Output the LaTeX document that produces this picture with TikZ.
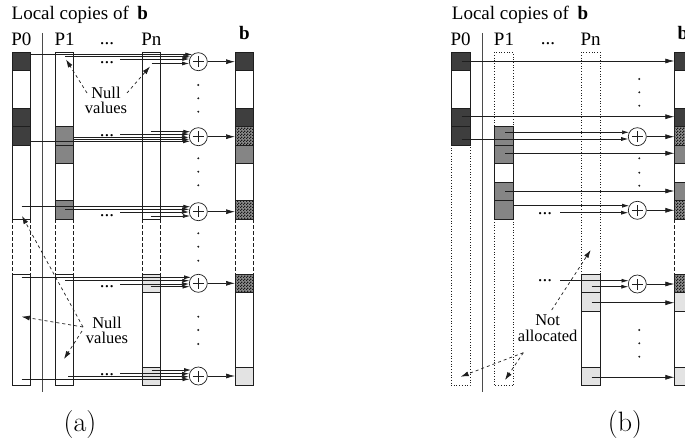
\documentclass[tikz,border=0pt]{standalone}
\usepackage{fontspec}
\newfontfamily\tms{Liberation Serif}
\usetikzlibrary{arrows.meta,patterns}
\pgfdeclarepatternformonly{finechk}{\pgfpointorigin}{\pgfpoint{2.6pt}{2.6pt}}{\pgfpoint{2.6pt}{2.6pt}}{%
  \pgfpathrectangle{\pgfpointorigin}{\pgfpoint{1.3pt}{1.3pt}}%
  \pgfpathrectangle{\pgfpoint{1.3pt}{1.3pt}}{\pgfpoint{1.3pt}{1.3pt}}%
  \pgfusepath{fill}}
\definecolor{dkc}{HTML}{3E3E3E}
\definecolor{mdc}{HTML}{858585}
\definecolor{ltc}{HTML}{E3E3E3}
\definecolor{lnc}{HTML}{1E1E1E}
\def\YA{52.3}\def\YB{70.9}\def\YC{89.4}\def\YD{108}\def\YE{126.5}\def\YF{145}\def\YG{163.6}\def\YH{182.2}\def\YI{200.7}\def\YJ{219.3}
\def\ZA{274}\def\ZB{292.6}\def\ZC{311.2}\def\ZF{367}\def\ZG{385.6}
\newcommand\blk[4]{\path[#4] (#1,#2) rectangle ({#1+18.7},#3);}
\newcommand\feed[4]{\pgfmathsetmacro\tipx{#3-sqrt(max(88-(#2-#4)*(#2-#4),0))}\draw[feedln] (#1,#2) -- (\tipx,#2);}
\tikzset{
 box/.style={draw=lnc,line width=0.8pt},
 dkb/.style={box,fill=dkc},
 mdb/.style={box,fill=mdc},
 ltb/.style={box,fill=ltc},
 hxb/.style={box,fill=black!45,postaction={pattern=finechk,pattern color=black!90},postaction={draw=lnc,line width=0.8pt}},
 dotb/.style={draw=lnc,line width=0.7pt,dotted},
 dsh/.style={draw=lnc,line width=0.8pt,dash pattern=on 3.5pt off 2.5pt},
 feedln/.style={draw=lnc,line width=0.7pt,-{Latex[length=7pt,width=4pt]}},
 outln/.style={draw=lnc,line width=0.7pt,-{Latex[length=9pt,width=5pt]}},
 note/.style={draw=lnc,line width=0.7pt,dash pattern=on 3pt off 3pt,-{Latex[length=8pt,width=5pt]}},
 oplus/.style={circle,draw=lnc,line width=0.7pt,minimum size=18pt,inner sep=0pt,fill=white,
   path picture={\draw[line width=0.6pt] ([xshift=-5.5pt]path picture bounding box.center) -- ([xshift=5.5pt]path picture bounding box.center) ([yshift=-5.5pt]path picture bounding box.center) -- ([yshift=5.5pt]path picture bounding box.center);}},
 lbl/.style={font=\tms\fontsize{19}{21}\selectfont,inner sep=0pt,anchor=base},
 nt/.style={font=\tms\fontsize{16.5}{15.5}\selectfont,align=center,inner sep=0pt},
 vdot/.style={circle,fill=lnc,inner sep=0pt,minimum size=2.2pt},
 capt/.style={font=\fontsize{28}{30}\selectfont,inner sep=0pt,anchor=base},
}
\begin{document}
\begin{tikzpicture}[x=1pt,y=-1pt]
\clip (0,0) rectangle (685,441);
\fill[white] (0,0) rectangle (685,441);

%================ Panel (a) ================
\node[lbl,anchor=base west] (ha) at (11.5,20) {Local copies of\hspace{0.45em}\textbf{b}};
\node[lbl] (ha0) at (21.3,45.7) {P0};
\node[lbl] (ha1) at (64.7,45.7) {P1};
\node[lbl] (had) at (107,44.5) {...};
\node[lbl] (han) at (151.3,45.7) {Pn};
\node[lbl] (hab) at (244.3,40) {\textbf{b}};
\draw[box,draw=lnc!80] (42.7,33) -- (42.7,392);

% P0
\path[box] (12,\YA) rectangle (30.7,\YJ);
\blk{12}{\YA}{\YB}{dkb}\blk{12}{\YD}{\YE}{dkb}\blk{12}{\YE}{\YF}{dkb}
\path[dsh] (12,\YJ) -- (12,\ZA) (30.7,\YJ) -- (30.7,\ZA);
\path[box] (12,\ZA) rectangle (30.7,\ZG);
% P1
\path[box] (55,\YA) rectangle (73.7,\YJ);
\blk{55}{\YE}{\YF}{mdb}\blk{55}{\YF}{\YG}{mdb}\blk{55}{\YI}{\YJ}{mdb}
\path[dsh] (55,\YJ) -- (55,\ZA) (73.7,\YJ) -- (73.7,\ZA);
\path[box] (55,\ZA) rectangle (73.7,\ZG);
% Pn
\path[box] (141.9,\YA) rectangle (160.6,\YJ);
\path[dsh] (141.9,\YJ) -- (141.9,\ZA) (160.6,\YJ) -- (160.6,\ZA);
\path[box] (141.9,\ZA) rectangle (160.6,\ZG);
\blk{141.9}{\ZA}{\ZB}{ltb}\blk{141.9}{\ZF}{\ZG}{ltb}
% b
\path[box] (235,\YA) rectangle (253.7,\YJ);
\blk{235}{\YA}{\YB}{dkb}\blk{235}{\YD}{\YE}{dkb}\blk{235}{\YE}{\YF}{hxb}\blk{235}{\YF}{\YG}{mdb}\blk{235}{\YI}{\YJ}{hxb}
\path[dsh] (235,\YJ) -- (235,\ZA) (253.7,\YJ) -- (253.7,\ZA);
\path[box] (235,\ZA) rectangle (253.7,\ZG);
\blk{235}{\ZA}{\ZB}{hxb}\blk{235}{\ZF}{\ZG}{ltb}

% adders
\node[oplus] (A1) at (198.3,61.7) {};
\node[oplus] (A2) at (198.3,136.7) {};
\node[oplus] (A3) at (198.3,211.7) {};
\node[oplus] (A4) at (198.3,283.3) {};
\node[oplus] (A5) at (198.3,376) {};
\coordinate (bA) at (235,0);
\foreach \n in {A1,A2,A3,A4,A5} \draw[outln] (\n.east) -- (\n.east -| bA);

% feeds
\feed{30.7}{54.5}{198.3}{61.7}\feed{65}{56.8}{198.3}{61.7}\feed{120}{59}{198.3}{61.7}\feed{151.7}{63.5}{198.3}{61.7}
\feed{150.7}{131.7}{198.3}{136.7}\feed{120}{134.2}{198.3}{136.7}\feed{73.7}{137.3}{198.3}{136.7}\feed{73.7}{139.3}{198.3}{136.7}\feed{30.7}{141.3}{198.3}{136.7}
\feed{21.7}{206.7}{198.3}{211.7}\feed{65}{209.3}{198.3}{211.7}\feed{120}{212}{198.3}{211.7}\feed{150.7}{216}{198.3}{211.7}
\feed{21.7}{277.3}{198.3}{283.3}\feed{65}{280.7}{198.3}{283.3}\feed{120}{284}{198.3}{283.3}\feed{150.7}{286.7}{198.3}{283.3}
\feed{151.7}{370}{198.3}{376}\feed{120}{373.7}{198.3}{376}\feed{68}{376.7}{198.3}{376}\feed{21.7}{379.3}{198.3}{376}

% dots text
\foreach \y [count=\i] in {63.5,136.5,216.5,287.5,375.3} \node[lbl] (da\i) at (107,\y) {...};
% vertical dots
\foreach \y [count=\i] in {85,98.3,111.7,158.3,171.7,185.3,233.3,246.7,260.7,316.7,330,344} \node[vdot] (va\i) at (198.3,\y) {};

% null value notes
\node[nt] (na1) at (106,100.5) {Null\\values};
\node[nt] (na2) at (107,330.5) {Null\\values};
\draw[note] (87,93) -- (66,59.5);
\draw[note] (127,93) -- (150,66.5);
\draw[note] (83,327) -- (22,216);
\draw[note] (83,327) -- (21.7,316.7);
\draw[note] (82,331) -- (64,359);

\node[capt] (capa) at (80,431.5) {(a)};

%================ Panel (b) ================
\begin{scope}[xshift=439.3pt]
\node[lbl,anchor=base west] (hb) at (12.4,20) {Local copies of\hspace{0.45em}\textbf{b}};
\node[lbl] (hb0) at (21.3,45.7) {P0};
\node[lbl] (hb1) at (64.7,45.7) {P1};
\node[lbl] (hbd) at (108.7,44.5) {...};
\node[lbl] (hbn) at (151.3,45.7) {Pn};
\node[lbl] (hbb) at (243.7,40) {\textbf{b}};
\draw[box,draw=lnc!80] (43.4,33) -- (43.4,392);

% P0
\path[dotb] (12,\YF) rectangle (30.7,\ZG);
\path[box] (12,\YA) rectangle (30.7,\YF);
\blk{12}{\YA}{\YB}{dkb}\blk{12}{\YD}{\YE}{dkb}\blk{12}{\YE}{\YF}{dkb}
% P1
\path[dotb] (55,\YA) rectangle (73.7,\YE);
\path[dotb] (55,\YJ) rectangle (73.7,\ZG);
\path[box] (55,\YE) rectangle (73.7,\YJ);
\blk{55}{\YE}{\YF}{mdb}\blk{55}{\YF}{\YG}{mdb}\blk{55}{\YH}{\YI}{mdb}\blk{55}{\YI}{\YJ}{mdb}
% Pn
\path[dotb] (141.9,\YA) rectangle (160.6,\ZA);
\path[box] (141.9,\ZA) rectangle (160.6,\ZG);
\blk{141.9}{\ZA}{\ZB}{ltb}\blk{141.9}{\ZB}{\ZC}{ltb}\blk{141.9}{\ZF}{\ZG}{ltb}
% b
\path[box] (235,\YA) rectangle (253.7,\YJ);
\blk{235}{\YA}{\YB}{dkb}\blk{235}{\YD}{\YE}{dkb}\blk{235}{\YE}{\YF}{hxb}\blk{235}{\YF}{\YG}{mdb}\blk{235}{\YH}{\YI}{mdb}\blk{235}{\YI}{\YJ}{hxb}
\path[dsh] (235,\YJ) -- (235,\ZA) (253.7,\YJ) -- (253.7,\ZA);
\path[box] (235,\ZA) rectangle (253.7,\ZG);
\blk{235}{\ZA}{\ZB}{hxb}\blk{235}{\ZB}{\ZC}{ltb}\blk{235}{\ZF}{\ZG}{ltb}

% adders
\node[oplus] (B1) at (198,136.7) {};
\node[oplus] (B2) at (198,210.3) {};
\node[oplus] (B3) at (198,284) {};
\coordinate (bB) at (235,0);
\foreach \n in {B1,B2,B3} \draw[outln] (\n.east) -- (\n.east -| bB);

% direct copies
\foreach \x/\y [count=\i] in {22.4/61,22.4/116.7,65.7/153.3,65.7/191,152.4/302.7,152.4/377.3}{
  \coordinate (s\i) at (\x,\y);
  \draw[outln] (s\i) -- (s\i -| bB);}

% feeds
\feed{65.7}{132.3}{198}{136.7}\feed{22.4}{139}{198}{136.7}
\feed{73.7}{205.7}{198}{210.3}\feed{120.7}{212.7}{198}{210.3}
\feed{120.7}{280.7}{198}{284}\feed{152.4}{286.7}{198}{284}

\node[lbl] (db1) at (105.7,214) {...};
\node[lbl] (db2) at (105.7,281.7) {...};
\foreach \y [count=\i] in {79,92.3,105.7,158.3,172.7,185.7,330,343.3,356.7} \node[vdot] (vb\i) at (200,\y) {};

\node[nt] (nb) at (108.4,328) {Not\\allocated};
\draw[note] (112.4,310) -- (151.4,250);
\draw[note] (84,352.7) -- (21.4,376.7);
\draw[note] (84,352.7) -- (65.7,380);
\end{scope}

\node[capt] (capb) at (625,431.5) {(b)};
\end{tikzpicture}
\end{document}
